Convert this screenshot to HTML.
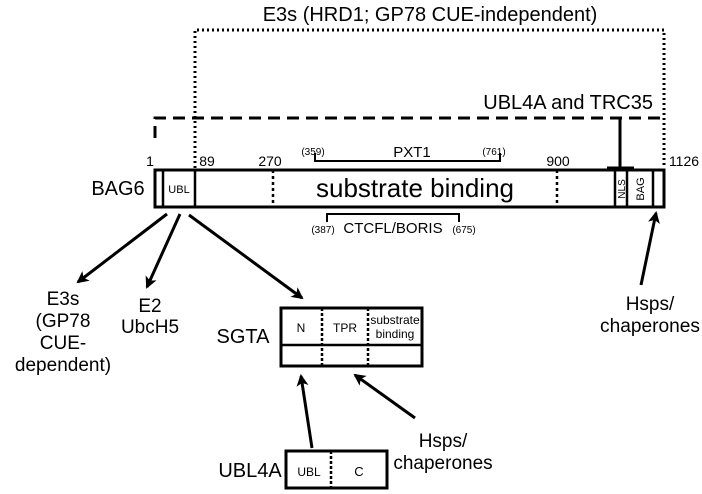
<html><body style="margin:0;background:#fff">
<svg width="702" height="494" xmlns="http://www.w3.org/2000/svg" font-family="Liberation Sans, sans-serif">
<defs><marker id="a" markerWidth="12" markerHeight="12" refX="10" refY="6" orient="auto" markerUnits="userSpaceOnUse"><path d="M0,0L12,6L0,12L3,6z" fill="#000"/></marker></defs>
<g fill="none" stroke="#000">
<path d="M195,168V30H664V168" stroke-width="3" stroke-dasharray="2,3"/>
<path d="M155,138V118H664" stroke-width="3" stroke-dasharray="12,7"/>
<path d="M620,118V168M607,168H634" stroke-width="3"/>
<rect x="155" y="170" width="509" height="37" stroke-width="3"/>
<path d="M163,170V207M195,170V207M615,170V207M627,170V207M653,170V207" stroke-width="2.5"/>
<path d="M273,170V207M557,170V207" stroke-width="2.5" stroke-dasharray="3,3"/>
<path d="M315,153V161H500V153M327,222V214H459V222" stroke-width="2"/>
<g stroke-width="3" marker-end="url(#a)">
<path d="M167,214L78,282"/><path d="M180,214L147,287"/><path d="M189,215L302,298"/>
<path d="M312,448L301,376"/><path d="M415,418L355,375"/><path d="M641,285L656,213"/>
</g>
<rect x="281" y="308" width="141" height="58" stroke-width="3"/>
<path d="M281,345H422" stroke-width="2.5"/>
<path d="M322,308V366M368,308V366" stroke-width="2.5" stroke-dasharray="3,2"/>
<rect x="286" y="451" width="101" height="37" stroke-width="3"/>
<path d="M331,451V488" stroke-width="2.5" stroke-dasharray="3,2"/>
</g>
<g fill="#000" text-anchor="middle">
<text x="430" y="21" font-size="20">E3s (HRD1; GP78 CUE-independent)</text>
<text x="653" y="109" font-size="20" text-anchor="end">UBL4A and TRC35</text>
<text x="150" y="166" font-size="14">1</text>
<text x="207" y="166" font-size="14">89</text>
<text x="270" y="166" font-size="14">270</text>
<text x="558" y="166" font-size="14">900</text>
<text x="684" y="166" font-size="14">1126</text>
<text x="313" y="155" font-size="10">(359)</text>
<text x="412" y="157" font-size="15">PXT1</text>
<text x="494" y="155" font-size="10">(761)</text>
<text x="393" y="233" font-size="15">CTCFL/BORIS</text>
<text x="323" y="233" font-size="10">(387)</text>
<text x="464" y="233" font-size="10">(675)</text>
<text x="118" y="195" font-size="20">BAG6</text>
<text x="179" y="193" font-size="11">UBL</text>
<text x="415" y="197" font-size="26">substrate binding</text>
<text transform="translate(625,189) rotate(-90)" font-size="10">NLS</text>
<text transform="translate(644,189) rotate(-90)" font-size="11">BAG</text>
<text x="63" y="305" font-size="19">E3s</text>
<text x="63" y="327" font-size="19">(GP78</text>
<text x="63" y="349" font-size="19">CUE-</text>
<text x="63" y="371" font-size="19">dependent)</text>
<text x="150" y="312" font-size="19">E2</text>
<text x="150" y="333" font-size="19">UbcH5</text>
<text x="243" y="343" font-size="20">SGTA</text>
<text x="301" y="332" font-size="12">N</text>
<text x="345" y="332" font-size="12">TPR</text>
<text x="395" y="324" font-size="12">substrate</text>
<text x="395" y="338" font-size="12">binding</text>
<text x="650" y="310" font-size="19">Hsps/</text>
<text x="650" y="332" font-size="19" textLength="100" lengthAdjust="spacingAndGlyphs">chaperones</text>
<text x="443" y="447" font-size="19">Hsps/</text>
<text x="443" y="469" font-size="19">chaperones</text>
<text x="250" y="477" font-size="20">UBL4A</text>
<text x="309" y="476" font-size="12">UBL</text>
<text x="359" y="476" font-size="13">C</text>
</g>
</svg>
</body></html>
